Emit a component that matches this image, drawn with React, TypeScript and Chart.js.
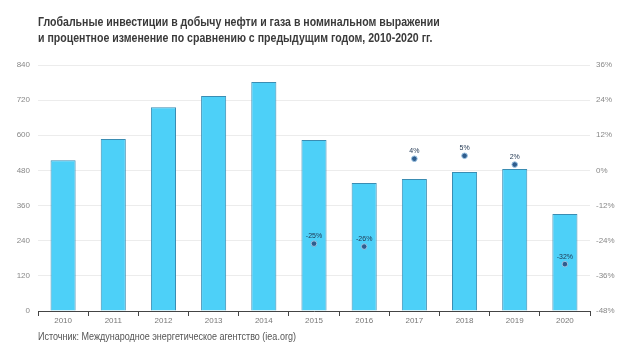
import React, { useEffect, useRef } from "react";
import { Chart, registerables } from "chart.js";

Chart.register(...registerables);

const years = ["2010", "2011", "2012", "2013", "2014", "2015", "2016", "2017", "2018", "2019", "2020"];
const investment = [515, 587, 696, 734, 782, 584, 437, 451, 475, 485, 331];
const changePct: (number | null)[] = [null, null, null, null, null, -25, -26, 4, 5, 2, -32];
const changeLabels = ["", "", "", "", "", "-25%", "-26%", "4%", "5%", "2%", "-32%"];

const titleLines = [
  "Глобальные инвестиции в добычу нефти и газа в номинальном выражении",
  "и процентное изменение по сравнению с предыдущим годом, 2010-2020 гг.",
];
const sourceText = "Источник: Международное энергетическое агентство (iea.org)";

const pointLabelPlugin = {
  id: "pointLabels",
  afterDatasetsDraw(chart: any) {
    const meta = chart.getDatasetMeta(1);
    const ctx = chart.ctx;
    ctx.save();
    ctx.font = "7px 'Liberation Sans', Arial, sans-serif";
    ctx.fillStyle = "#1f3550";
    ctx.textAlign = "center";
    ctx.textBaseline = "bottom";
    meta.data.forEach((el: any, i: number) => {
      if (changePct[i] === null) return;
      ctx.fillText(changeLabels[i], el.x, el.y - 4);
    });
    ctx.restore();
  },
};

export default function App() {
  const ref = useRef<HTMLCanvasElement>(null);
  useEffect(() => {
    if (!ref.current) return;
    const tickFont = { family: "'Liberation Sans', Arial, sans-serif", size: 8 };
    const chart = new Chart(ref.current, {
      type: "bar",
      data: {
        labels: years,
        datasets: [
          {
            type: "bar",
            data: investment,
            backgroundColor: "#4dd0f8",
            borderColor: "#3a8db3",
            borderWidth: 1,
            barPercentage: 0.5,
            categoryPercentage: 1,
            yAxisID: "y",
            order: 2,
          },
          {
            type: "line",
            data: changePct as any,
            showLine: false,
            pointRadius: 2.8,
            pointBackgroundColor: "#2f5d8e",
            pointBorderColor: "#9cc3e2",
            pointBorderWidth: 1,
            yAxisID: "y1",
            order: 1,
          } as any,
        ],
      },
      options: {
        animation: false,
        responsive: false,
        maintainAspectRatio: false,
        layout: { padding: { top: 65, bottom: 28, left: 0, right: 0 } },
        plugins: { legend: { display: false }, tooltip: { enabled: false } },
        scales: {
          x: {
            grid: { offset: true, drawOnChartArea: false, drawTicks: true, tickLength: 5, color: "#444" },
            border: { display: true, color: "#444" },
            ticks: { font: tickFont, color: "#777", padding: 0, maxRotation: 0 },
            afterFit: (s: any) => { s.height = 25; },
          },
          y: {
            position: "left",
            min: 0,
            max: 840,
            ticks: { stepSize: 120, font: tickFont, color: "#888", padding: 8 },
            grid: { color: "#ececec", drawTicks: false },
            border: { display: false },
            afterFit: (s: any) => { s.width = 38; },
          },
          y1: {
            position: "right",
            min: -48,
            max: 36,
            ticks: { stepSize: 12, font: tickFont, color: "#888", padding: 6, callback: (v: any) => v + "%" },
            grid: { display: false, drawTicks: false },
            border: { display: false },
            afterFit: (s: any) => { s.width = 30; },
          },
        },
      },
      plugins: [pointLabelPlugin],
    });
    return () => chart.destroy();
  }, []);

  return (
    <div style={{ position: "absolute", left: 0, top: 0, width: 620, height: 364, background: "#fff", fontFamily: "'Liberation Sans', Arial, sans-serif" }}>
      <canvas ref={ref} width={620} height={364} style={{ position: "absolute", left: 0, top: 0 }} />
      <div style={{ position: "absolute", left: 38, top: 14, fontSize: 12, fontWeight: "bold", color: "#3a3a3a", lineHeight: "16px", whiteSpace: "nowrap", transform: "scaleX(0.88)", transformOrigin: "left top" }}>
        {titleLines.map((t, i) => (<div key={i}>{t}</div>))}
      </div>
      <div style={{ position: "absolute", left: 38, top: 331, fontSize: 10, color: "#555", whiteSpace: "nowrap", transform: "scaleX(0.9)", transformOrigin: "left top" }}>{sourceText}</div>
    </div>
  );
}
